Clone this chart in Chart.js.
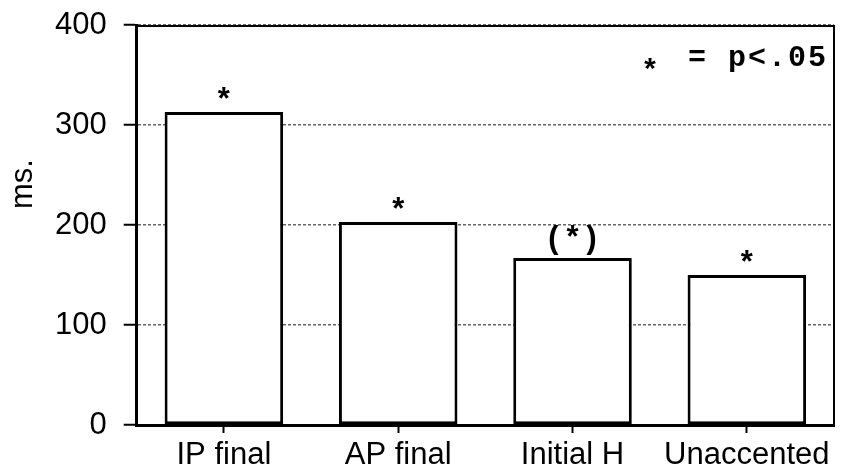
<!DOCTYPE html>
<html>
<head>
<meta charset="utf-8">
<script src="https://cdn.jsdelivr.net/npm/chart.js@4.4.0/dist/chart.umd.min.js"></script>
<style>
html,body{margin:0;padding:0;background:#fff;}
#wrap{width:859px;height:470px;position:relative;}
</style>
</head>
<body>
<div id="wrap"><canvas id="c" width="859" height="470"></canvas></div>
<script>
const categories = ["IP final", "AP final", "Initial H", "Unaccented"];
const durations = [313, 203, 167, 150];
const significance = ["*", "*", "(*)", "*"];
const yTicks = [0, 100, 200, 300, 400];
const yTitle = "ms.";
const legendMark = "*";
const legendText = "= p<.05";

const annotate = {
  id: 'annotate',
  afterDraw(chart) {
    const ctx = chart.ctx;
    const a = chart.chartArea;
    ctx.save();
    // top and right frame
    ctx.strokeStyle = '#000';
    ctx.lineWidth = 2;
    ctx.beginPath();
    ctx.moveTo(a.left, a.top + 1);
    ctx.lineTo(a.right, a.top + 1);
    ctx.lineTo(a.right, a.bottom);
    ctx.stroke();
    // significance marks
    const meta = chart.getDatasetMeta(0);
    ctx.fillStyle = '#000';
    ctx.font = 'bold 31px "Liberation Mono", "Courier New", monospace';
    ctx.textAlign = 'center';
    ctx.textBaseline = 'alphabetic';
    meta.data.forEach((bar, i) => {
      const lift = significance[i].indexOf('(') >= 0 ? 10 : 2;
      ctx.fillText(significance[i], bar.x, bar.y - lift);
    });
    // legend
    ctx.font = 'bold 30px "Liberation Mono", "Courier New", monospace';
    ctx.textAlign = 'center';
    ctx.fillText(legendMark, 650, 80);
    ctx.textAlign = 'right';
    try { ctx.letterSpacing = '2px'; } catch(e) {}
    ctx.fillText(legendText, 828, 66);
    try { ctx.letterSpacing = '0px'; } catch(e) {}
    // y title
    ctx.font = '31px "Liberation Sans", Arial, sans-serif';
    ctx.translate(23, 184);
    ctx.rotate(-Math.PI / 2);
    ctx.textAlign = 'center';
    ctx.textBaseline = 'middle';
    ctx.fillText(yTitle, 0, 0);
    ctx.restore();
  }
};

new Chart(document.getElementById('c'), {
  type: 'bar',
  data: {
    labels: categories,
    datasets: [{
      data: durations,
      backgroundColor: '#fff',
      borderColor: '#000',
      borderWidth: 3,
      borderSkipped: false,
      barPercentage: 0.68,
      categoryPercentage: 1.0
    }]
  },
  options: {
    responsive: false,
    animation: false,
    devicePixelRatio: 1,
    layout: { padding: { left: 38, right: 25, top: 25, bottom: -8 } },
    plugins: { legend: { display: false }, tooltip: { enabled: false } },
    scales: {
      x: {
        offset: true,
        grid: { offset: false, drawOnChartArea: false, tickLength: 8, tickColor: '#000', tickWidth: 2 },
        border: { display: true, color: '#000', width: 3 },
        ticks: { color: '#000', padding: 7, font: { family: '"Liberation Sans", Arial, sans-serif', size: 31, lineHeight: 1 }, maxRotation: 0, autoSkip: false }
      },
      y: {
        min: 0, max: 400,
        afterBuildTicks(scale) { scale.ticks = yTicks.map(v => ({ value: v })); },
        grid: { color: '#666', lineWidth: 1.5, tickLength: 13, tickColor: '#000', tickWidth: 2, tickBorderDash: [] },
        border: { display: true, color: '#000', width: 3, dash: [3, 2] },
        ticks: { color: '#000', padding: 17, font: { family: '"Liberation Sans", Arial, sans-serif', size: 31, lineHeight: 0.5 } }
      }
    }
  },
  plugins: [annotate]
});
</script>
</body>
</html>
